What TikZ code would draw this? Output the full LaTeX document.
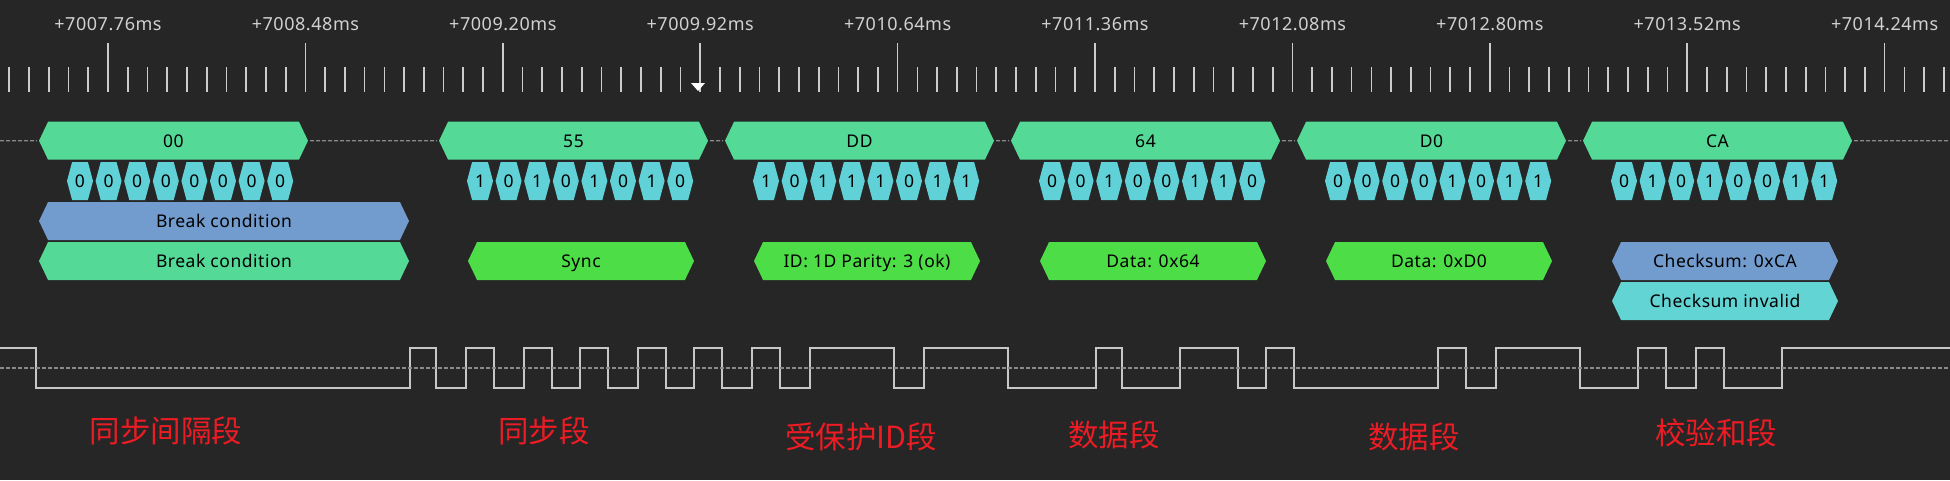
\documentclass[tikz,border=0pt]{standalone}
\usepackage{fontspec}
\usetikzlibrary{shapes.symbols}
\setmainfont[LetterSpace=3]{Noto Sans}
\newfontfamily\cjk{Noto Sans CJK SC}
\definecolor{bgdark}{HTML}{262626}
\definecolor{bytegreen}{HTML}{54D997}
\definecolor{bitcyan}{HTML}{60D1D6}
\definecolor{fieldgreen}{HTML}{4DDD47}
\definecolor{fieldblue}{HTML}{729CCE}
\definecolor{fieldcyan}{HTML}{62D4D4}
\definecolor{tickgray}{HTML}{CCCCCC}
\definecolor{idlegray}{HTML}{8A8A8A}
\definecolor{labelred}{HTML}{ED1C24}

\begin{document}
\begin{tikzpicture}[x=1pt, y=-1pt,
    hexbox/.style={signal, signal to=east and west, draw=none, inner sep=0pt, outer sep=0pt,
      minimum height=38pt, signal pointer angle=129, text=black, text height=13pt, text depth=0pt,
      font=\fontsize{17.5}{18}\selectfont},
    bytebox/.style={hexbox, fill=bytegreen, minimum width=269pt},
    bitbox/.style={hexbox, fill=bitcyan, minimum width=26pt, signal pointer angle=150},
    fieldbox/.style={hexbox, fill=fieldgreen, minimum width=226pt},
    idleline/.style={draw=idlegray, line width=1.3pt, dash pattern=on 4pt off 2pt},
    tickline/.style={draw=tickgray, line width=1.7pt},
    timelabel/.style={text=tickgray!90, font=\fontsize{18}{19}\selectfont},
    notelabel/.style={text=labelred, font=\cjk\fontsize{30.5}{30}\selectfont}]
  \useasboundingbox[fill=bgdark] (0,0) rectangle (1950,480);

  % time axis
  \foreach \tickno in {-5,...,93} {
    \pgfmathsetmacro\tickx{108+19.74*\tickno}
    \pgfmathsetmacro\ticktop{mod(\tickno+100,10)==0 ? 43 : 67}
    \draw[tickline] (\tickx,\ticktop) -- (\tickx,92);
  }
  \foreach \timetext [count=\timeno from 0] in {7007.76,7008.48,7009.20,7009.92,7010.64,7011.36,7012.08,7012.80,7013.52,7014.24}
    \node[timelabel] (time\timeno) at (108+197.4*\timeno,24) {+\timetext ms};
  \fill[white] (691,83) -- (705,83) -- (698,91) -- cycle;

  % bytes and their bits
  \foreach \bytename/\bytex/\bitlist in {00/39/{0,0,0,0,0,0,0,0},55/439/{1,0,1,0,1,0,1,0},DD/725/{1,0,1,1,1,0,1,1},64/1011/{0,0,1,0,0,1,1,0},D0/1297/{0,0,0,0,1,0,1,1},CA/1583/{0,1,0,1,0,0,1,1}} {
    \node[bytebox] (byte\bytename) at (\bytex+134.5,140.7) {\bytename};
    \foreach \bitval [count=\bitno from 0] in \bitlist
      \node[bitbox] (bit\bytename\bitno) at (\bytex+41+28.6*\bitno,181) {\bitval};
  }

  % idle line between bytes
  \coordinate (idlestart) at (0,140.7);
  \coordinate (idleend) at (1950,140.7);
  \draw[idleline, shorten >=2pt] (idlestart) -- (byte00);
  \draw[idleline, shorten <=2pt, shorten >=2pt] (byte00) -- (byte55);
  \draw[idleline, shorten <=2pt, shorten >=2pt] (byte55) -- (byteDD);
  \draw[idleline, shorten <=2pt, shorten >=2pt] (byteDD) -- (byte64);
  \draw[idleline, shorten <=2pt, shorten >=2pt] (byte64) -- (byteD0);
  \draw[idleline, shorten <=2pt, shorten >=2pt] (byteD0) -- (byteCA);
  \draw[idleline, shorten <=2pt] (byteCA) -- (idleend);

  % decoded fields
  \node[hexbox, fill=fieldblue, minimum width=370pt] (breakblue) at (224,221) {Break condition};
  \node[hexbox, fill=bytegreen, minimum width=370pt] (breakgreen) at (224,261) {Break condition};
  \node[fieldbox] (sync) at (581,261) {Sync};
  \node[fieldbox] (pid) at (867,261) {ID: 1D Parity: 3 (ok)};
  \node[fieldbox] (datafirst) at (1153,261) {Data: 0x64};
  \node[fieldbox] (datasecond) at (1439,261) {Data: 0xD0};
  \node[fieldbox, fill=fieldblue] (checksum) at (1725,261) {Checksum: 0xCA};
  \node[fieldbox, fill=fieldcyan] (checkbad) at (1725,301) {Checksum invalid};

  % waveform
  \coordinate (wavestart) at (0,368);
  \coordinate (waveend) at (1950,368);
  \draw[tickline, line width=2pt, draw=tickgray!110] (0,348) -| (36,388) -| (410,348) -| (436,388) -| (466,348) -| (494,388)
    -| (524,348) -| (552,388) -| (580,348) -| (608,388) -| (638,348) -| (666,388) -| (694,348) -| (722,388)
    -| (752,348) -| (780,388) -| (810,348) -| (894,388) -| (924,348) -| (1008,388) -| (1096,348) -| (1122,388)
    -| (1180,348) -| (1238,388) -| (1266,348) -| (1294,388) -| (1438,348) -| (1466,388) -| (1496,348) -| (1580,388)
    -| (1638,348) -| (1666,388) -| (1696,348) -| (1724,388) -| (1782,348) -- (1950,348);
  \draw[idleline, line width=2pt] (wavestart) -- (waveend);

  % red notes
  \node[notelabel] (notebreak) at (166,431) {同步间隔段};
  \node[notelabel] (notesync) at (544,431) {同步段};
  \node[notelabel] (notepid) at (861,437) {受保护ID段};
  \node[notelabel] (notedataa) at (1114,435) {数据段};
  \node[notelabel] (notedatab) at (1414,437) {数据段};
  \node[notelabel] (notecheck) at (1716,433) {校验和段};
\end{tikzpicture}
\end{document}
